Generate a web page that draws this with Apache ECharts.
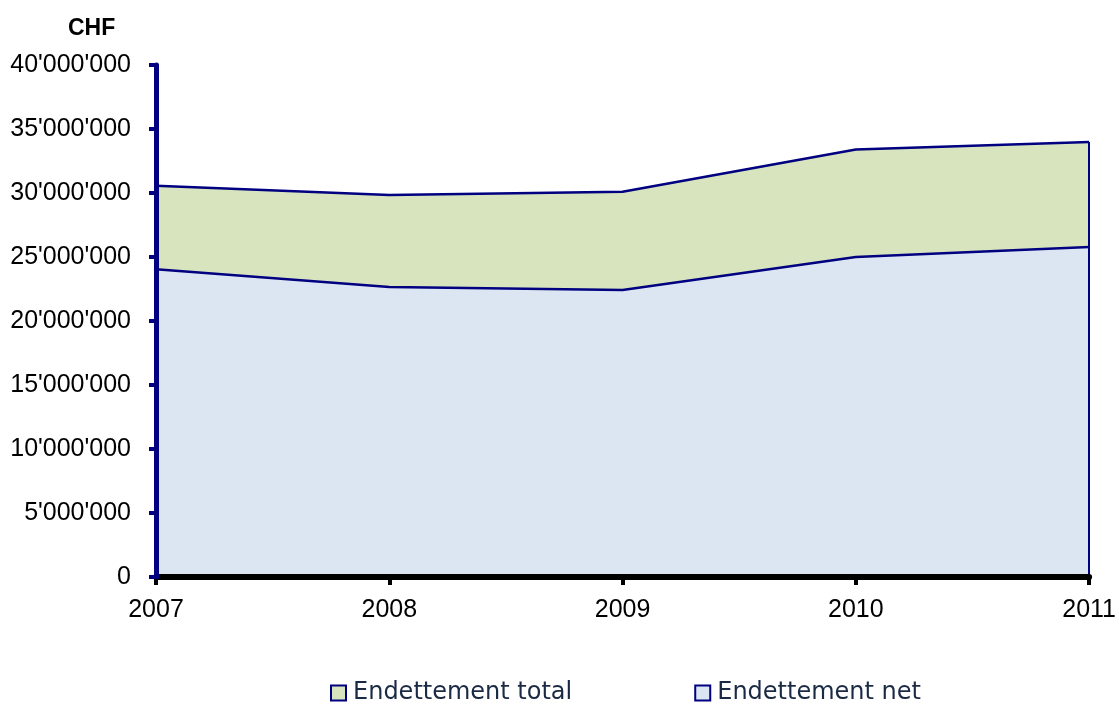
<!DOCTYPE html>
<html>
<head>
<meta charset="utf-8">
<script src="https://cdn.jsdelivr.net/npm/echarts@6/dist/echarts.min.js"></script>
<style>
  html, body { margin: 0; padding: 0; background: #fff; }
  #chart { width: 1119px; height: 704px; }
</style>
</head>
<body>
<div id="chart"></div>
<script>
  var years = ['2007', '2008', '2009', '2010', '2011'];
  var totalDebt = [30570000, 29840000, 30100000, 33400000, 33980000];
  var netDebt = [24040000, 22660000, 22420000, 25000000, 25780000];
  var yTicks = [0, 5000000, 10000000, 15000000, 20000000, 25000000, 30000000, 35000000, 40000000];

  var navy = '#000080';

  function swissFormat(v) {
    return String(v).replace(/\B(?=(\d{3})+(?!\d))/g, "'");
  }

  var chart = echarts.init(document.getElementById('chart'));
  var option = {
    animation: false,
    title: {
      text: 'CHF',
      left: 63,
      top: 12,
      textStyle: { fontFamily: 'Liberation Sans', fontWeight: 'bold', fontSize: 23, color: '#000' }
    },
    legend: {
      top: 676,
      left: 325,
      itemGap: 122,
      itemWidth: 15,
      itemHeight: 15,
      icon: 'rect',
      textStyle: { fontFamily: 'DejaVu Sans', fontSize: 24, color: '#1b2a44', padding: [0, 0, 0, 2] },
      data: [
        { name: 'Endettement total', itemStyle: { color: '#d7e4bd', borderColor: navy, borderWidth: 2 } },
        { name: 'Endettement net', itemStyle: { color: '#dce6f2', borderColor: navy, borderWidth: 2 } }
      ]
    },
    grid: { left: 156, right: 26, top: 65, bottom: 127 },
    xAxis: {
      type: 'category',
      data: years,
      boundaryGap: false,
      z: 5,
      axisLine: { lineStyle: { color: '#000', width: 6 } },
      axisTick: { show: true, length: 8, lineStyle: { color: '#000', width: 4 } },
      axisLabel: { color: '#000', fontFamily: 'Liberation Sans', fontSize: 25, margin: 21, showMaxLabel: true },
      splitLine: { show: false }
    },
    yAxis: {
      type: 'value',
      min: yTicks[0],
      max: yTicks[yTicks.length - 1],
      interval: yTicks[1] - yTicks[0],
      z: 6,
      axisLine: { show: true, lineStyle: { color: navy, width: 5 } },
      axisTick: { show: true, length: 7, lineStyle: { color: navy, width: 4 } },
      axisLabel: { color: '#000', fontFamily: 'Liberation Sans', fontSize: 25, margin: 25, formatter: swissFormat },
      splitLine: { show: false }
    },
    series: [
      {
        name: 'Endettement total',
        type: 'line',
        data: totalDebt,
        symbol: 'none',
        z: 1,
        itemStyle: { color: '#d7e4bd' },
        lineStyle: { color: navy, width: 2.5 },
        areaStyle: { color: '#d7e4bd', opacity: 1 },
        markLine: {
          silent: true,
          symbol: 'none',
          label: { show: false },
          lineStyle: { color: navy, width: 2, type: 'solid' },
          data: [[{ coord: [years[years.length - 1], 0] }, { coord: [years[years.length - 1], totalDebt[totalDebt.length - 1]] }]]
        }
      },
      {
        name: 'Endettement net',
        type: 'line',
        data: netDebt,
        symbol: 'none',
        z: 2,
        itemStyle: { color: '#dce6f2' },
        lineStyle: { color: navy, width: 2.5 },
        areaStyle: { color: '#dce6f2', opacity: 1 }
      }
    ]
  };
  chart.setOption(option);
</script>
</body>
</html>
